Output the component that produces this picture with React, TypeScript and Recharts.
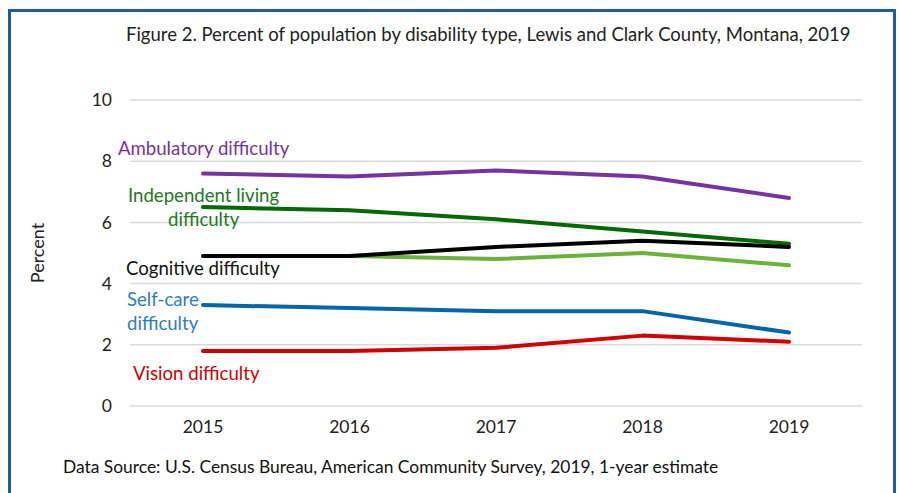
import { LineChart, Line, XAxis, YAxis, CartesianGrid } from "recharts";

const FONT = "Lato, 'Noto Sans', sans-serif";
const BORDER = "#1F5AA6";
const GRID = "#D9D9D9";

const years = ["2015", "2016", "2017", "2018", "2019"];
const ambulatory = [7.6, 7.5, 7.7, 7.5, 6.8];
const independent = [6.5, 6.4, 6.1, 5.7, 5.3];
const cognitive = [4.9, 4.9, 5.2, 5.4, 5.2];
const hearing = [4.9, 4.9, 4.8, 5.0, 4.6];
const selfCare = [3.3, 3.2, 3.1, 3.1, 2.4];
const vision = [1.8, 1.8, 1.9, 2.3, 2.1];
const yTicks = [0, 2, 4, 6, 8, 10];

const data = years.map((year, i) => ({
  year,
  ambulatory: ambulatory[i],
  independent: independent[i],
  cognitive: cognitive[i],
  hearing: hearing[i],
  selfCare: selfCare[i],
  vision: vision[i],
}));

const series = [
  { key: "hearing", color: "#6AB23A" },
  { key: "vision", color: "#D00000" },
  { key: "selfCare", color: "#0465A9" },
  { key: "independent", color: "#006A00" },
  { key: "cognitive", color: "#000000" },
  { key: "ambulatory", color: "#7434A4" },
];

const labels = [
  { text: "Ambulatory difficulty", color: "#7434A4", left: 118, top: 137 },
  { text: "Independent living", color: "#1C7A1C", left: 128, top: 184 },
  { text: "difficulty", color: "#1C7A1C", left: 168, top: 208 },
  { text: "Cognitive difficulty", color: "#111111", left: 126, top: 257 },
  { text: "Self-care", color: "#2A7FC0", left: 127, top: 288 },
  { text: "difficulty", color: "#2A7FC0", left: 127, top: 312 },
  { text: "Vision difficulty", color: "#D00000", left: 133, top: 362 },
];

export default function App() {
  return (
    <div
      style={{
        position: "absolute",
        left: 0,
        top: 0,
        width: 898,
        height: 493,
        overflow: "hidden",
        background: "#fff",
        fontFamily: FONT,
      }}
    >
      <div
        style={{
          position: "absolute",
          left: 8,
          top: 9,
          width: 882,
          height: 520,
          border: `3px solid ${BORDER}`,
        }}
      />
      <div
        style={{
          position: "absolute",
          left: 126,
          top: 23,
          fontSize: 18.5,
          color: "#222",
          whiteSpace: "nowrap",
        }}
      >
        Figure 2. Percent of population by disability type, Lewis and Clark County, Montana, 2019
      </div>
      <div style={{ position: "absolute", left: 0, top: 0 }}>
        <LineChart
          width={898}
          height={493}
          data={data}
          margin={{ top: 100, right: 36, bottom: 47, left: 0 }}
        >
          <CartesianGrid stroke={GRID} strokeWidth={1.5} vertical={false} />
          <XAxis
            dataKey="year"
            axisLine={false}
            tickLine={false}
            height={40}
            tickMargin={9}
            padding={{ left: 73, right: 73 }}
            tick={{ fontSize: 17.5, fill: "#222", fontFamily: FONT }}
          />
          <YAxis
            domain={[0, 10]}
            ticks={yTicks}
            width={130}
            axisLine={false}
            tickLine={false}
            tickMargin={12}
            tick={{ fontSize: 17.5, fill: "#222", fontFamily: FONT }}
            label={{
              value: "Percent",
              angle: -90,
              position: "insideLeft",
              offset: 38,
              style: { fontSize: 18, fill: "#222", fontFamily: FONT, textAnchor: "middle" },
            }}
          />
          {series.map((s) => (
            <Line
              key={s.key}
              type="linear"
              dataKey={s.key}
              stroke={s.color}
              strokeWidth={4}
              strokeLinecap="round"
              strokeLinejoin="round"
              dot={false}
              activeDot={false}
              isAnimationActive={false}
            />
          ))}
        </LineChart>
      </div>
      {labels.map((l, i) => (
        <div
          key={i}
          style={{
            position: "absolute",
            left: l.left,
            top: l.top,
            fontSize: 18.6,
            color: l.color,
            whiteSpace: "nowrap",
          }}
        >
          {l.text}
        </div>
      ))}
      <div
        style={{
          position: "absolute",
          left: 63,
          top: 456,
          fontSize: 17.4,
          color: "#111",
          whiteSpace: "nowrap",
        }}
      >
        Data Source: U.S. Census Bureau, American Community Survey, 2019, 1-year estimate
      </div>
    </div>
  );
}
